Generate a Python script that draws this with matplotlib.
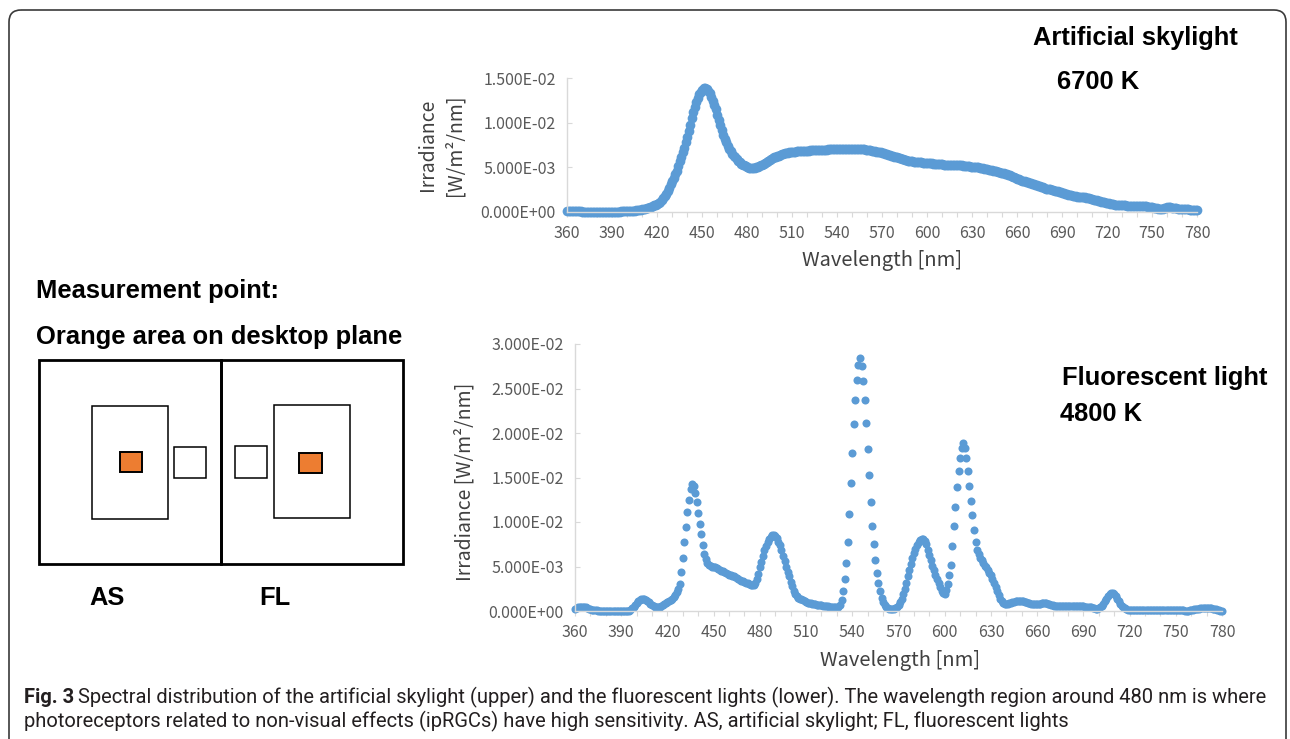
import matplotlib
matplotlib.use('Agg')
import matplotlib.pyplot as plt
import numpy as np
from matplotlib import font_manager
from matplotlib.patches import Rectangle, FancyBboxPatch
from matplotlib.ticker import FuncFormatter, MultipleLocator

plt.rcParams['font.family'] = ['Noto Sans CJK JP', 'DejaVu Sans']

W, H = 1290, 739

# wavelength grid, 1 nm steps
wavelength = np.arange(360, 781)

# artificial skylight 6700 K, irradiance in 1e-4 W/m2/nm (360..780 nm)
skylight = [
    1, 1, 1, 1, 1, 1, 1, 1, 1, 1,
    0, 0, 0, 0, 0, 0, 0, 0, 0, 0,
    0, 0, 0, 0, 0, 0, 0, 0, 0, 0,
    0, 0, 0, 0, 0, 0, 1, 1, 1, 1,
    1, 1, 1, 1, 1, 1, 2, 2, 2, 2,
    3, 3, 3, 4, 4, 5, 5, 6, 7, 8,
    9, 10, 11, 13, 15, 18, 20, 23, 27, 31,
    35, 38, 42, 46, 51, 57, 61, 67, 72, 78,
    84, 91, 98, 105, 112, 118, 123, 128, 132, 135,
    137, 139, 139, 138, 136, 133, 129, 125, 120, 115,
    109, 103, 97, 92, 86, 82, 78, 74, 71, 68,
    65, 63, 61, 59, 57, 56, 54, 53, 52, 51,
    50, 49, 49, 49, 49, 49, 50, 50, 51, 52,
    53, 54, 55, 56, 57, 58, 59, 60, 61, 62,
    63, 63, 64, 65, 65, 66, 66, 66, 67, 67,
    67, 67, 67, 68, 68, 68, 68, 68, 68, 68,
    68, 68, 69, 69, 69, 69, 69, 69, 69, 69,
    69, 69, 69, 69, 70, 70, 70, 70, 70, 70,
    70, 70, 70, 71, 71, 71, 71, 71, 71, 71,
    71, 71, 71, 71, 71, 70, 70, 70, 70, 69,
    69, 69, 69, 68, 68, 68, 67, 67, 67, 67,
    66, 66, 65, 65, 64, 64, 63, 63, 62, 62,
    61, 60, 60, 59, 59, 58, 58, 57, 57, 57,
    57, 56, 56, 56, 56, 56, 56, 55, 55, 55,
    55, 55, 55, 55, 54, 54, 54, 54, 54, 54,
    54, 53, 53, 53, 53, 53, 53, 53, 53, 52,
    52, 52, 52, 52, 51, 51, 51, 51, 51, 50,
    50, 50, 50, 50, 50, 49, 49, 49, 48, 48,
    48, 47, 47, 47, 46, 46, 46, 45, 45, 44,
    44, 43, 42, 42, 41, 41, 40, 39, 39, 38,
    37, 37, 36, 35, 35, 34, 33, 33, 32, 32,
    31, 31, 30, 30, 29, 29, 28, 28, 27, 26,
    26, 25, 25, 24, 24, 23, 23, 23, 22, 22,
    21, 21, 20, 20, 19, 19, 19, 18, 18, 18,
    17, 17, 17, 16, 16, 16, 15, 15, 15, 14,
    14, 13, 13, 13, 12, 12, 11, 11, 11, 10,
    10, 10, 9, 9, 9, 8, 8, 8, 8, 7,
    7, 7, 7, 6, 6, 6, 6, 6, 6, 6,
    6, 6, 6, 6, 6, 6, 6, 5, 5, 5,
    5, 4, 4, 4, 3, 3, 3, 3, 4, 4,
    5, 5, 5, 4, 4, 4, 4, 3, 3, 3,
    3, 3, 3, 3, 3, 2, 2, 2, 2, 2,
    2,
]

# fluorescent light 4800 K, irradiance in 1e-4 W/m2/nm (360..780 nm)
fluorescent = [
    2, 3, 4, 4, 5, 5, 4, 4, 3, 2,
    2, 1, 1, 1, 1, 0, 0, 0, 0, 0,
    0, 0, 0, 0, 0, 0, 0, 0, 0, 0,
    0, 0, 0, 0, 0, 0, 1, 3, 5, 7,
    9, 11, 12, 13, 13, 13, 12, 11, 10, 8,
    7, 6, 5, 5, 5, 5, 6, 7, 8, 9,
    10, 11, 12, 14, 16, 18, 21, 25, 30, 44,
    60, 78, 94, 111, 125, 137, 143, 140, 133, 122,
    110, 98, 86, 74, 64, 58, 54, 52, 51, 50,
    49, 49, 48, 47, 46, 45, 45, 44, 43, 42,
    41, 40, 39, 39, 38, 37, 36, 35, 34, 34,
    33, 32, 31, 30, 29, 29, 29, 32, 36, 42,
    49, 55, 62, 68, 73, 78, 81, 83, 85, 85,
    84, 82, 78, 74, 68, 62, 56, 50, 44, 39,
    33, 28, 23, 19, 17, 15, 14, 13, 12, 11,
    10, 9, 9, 9, 8, 8, 8, 7, 7, 7,
    7, 6, 6, 6, 6, 5, 5, 5, 5, 4,
    4, 5, 7, 12, 22, 36, 54, 77, 109, 144,
    178, 210, 237, 260, 276, 284, 275, 258, 237, 211,
    182, 153, 123, 96, 75, 57, 43, 31, 22, 15,
    10, 7, 5, 3, 2, 2, 2, 2, 3, 5,
    7, 10, 14, 19, 25, 32, 39, 46, 53, 59,
    65, 70, 74, 77, 80, 81, 81, 79, 75, 69,
    63, 57, 51, 46, 41, 36, 31, 27, 23, 20,
    19, 24, 30, 40, 52, 73, 95, 117, 139, 157,
    172, 183, 189, 183, 172, 157, 140, 124, 108, 91,
    78, 69, 64, 60, 57, 54, 51, 49, 46, 43,
    40, 36, 32, 27, 22, 18, 14, 11, 9, 8,
    8, 8, 9, 9, 10, 10, 11, 11, 11, 11,
    11, 11, 10, 10, 9, 9, 8, 8, 8, 8,
    8, 8, 8, 9, 9, 9, 9, 8, 8, 7,
    7, 6, 6, 6, 6, 6, 6, 6, 6, 6,
    6, 6, 6, 6, 6, 6, 6, 6, 6, 6,
    6, 5, 5, 5, 4, 4, 3, 3, 2, 2,
    3, 4, 6, 8, 11, 14, 17, 19, 20, 20,
    19, 17, 14, 11, 8, 6, 4, 3, 2, 1,
    1, 1, 1, 1, 1, 1, 1, 1, 1, 1,
    1, 1, 1, 1, 1, 1, 1, 1, 1, 1,
    1, 1, 1, 1, 1, 1, 1, 1, 1, 1,
    1, 1, 1, 1, 1, 1, 0, 0, 0, 1,
    1, 1, 2, 2, 2, 2, 3, 3, 3, 3,
    3, 3, 3, 3, 2, 2, 2, 1, 1, 0,
    0,
]

caption_1 = ("Spectral distribution of the artificial skylight (upper) and the fluorescent "
             "lights (lower). The wavelength region around 480 nm is where")
caption_2 = ("photoreceptors related to non-visual effects (ipRGCs) have high sensitivity. "
             "AS, artificial skylight; FL, fluorescent lights")

BLUE = '#5b9bd5'
ORANGE = '#ed7d31'


def has_font(name):
    try:
        font_manager.findfont(font_manager.FontProperties(family=name),
                              fallback_to_default=False)
        return True
    except Exception:
        return False


cap_font = 'Liberation Sans Narrow' if has_font('Liberation Sans Narrow') else 'Roboto'

fig = plt.figure(figsize=(W / 100, H / 100), dpi=100)

# background layer in pixel coordinates (diagram, titles, frame, caption)
bg = fig.add_axes([0, 0, 1, 1])
bg.set_xlim(0, W)
bg.set_ylim(H, 0)
bg.axis('off')

bg.add_patch(FancyBboxPatch((9, 10), 1277, 780, boxstyle='round,pad=0,rounding_size=12',
                            fc='none', ec='#3a3a3a', lw=1.2, clip_on=False))


def style_axes(ax, ymax, ystep):
    ax.set_xlim(360, 780)
    ax.set_ylim(0, ymax)
    ax.patch.set_visible(False)
    for s in ['top', 'right']:
        ax.spines[s].set_visible(False)
    for s in ['left', 'bottom']:
        ax.spines[s].set_color('#d9d9d9')
        ax.spines[s].set_linewidth(1.0)
    ax.xaxis.set_major_locator(MultipleLocator(30))
    ax.xaxis.set_minor_locator(MultipleLocator(10))
    ax.yaxis.set_major_locator(MultipleLocator(ystep))
    ax.yaxis.set_major_formatter(FuncFormatter(lambda v, p: f'{v:.3E}'))
    ax.tick_params(axis='x', which='both', direction='out', length=3.5, width=0.8,
                   color='#d9d9d9', labelsize=11.5, labelcolor='#595959', pad=6)
    ax.tick_params(axis='y', direction='in', length=3.5, width=0.8,
                   color='#d9d9d9', labelsize=11.5, labelcolor='#595959', pad=8)


# upper chart: artificial skylight
ax1 = fig.add_axes([567 / W, 1 - 211.7 / H, 630 / W, 133.4 / H])
style_axes(ax1, 0.015, 0.005)
ax1.plot(wavelength, np.array(skylight) * 1e-4, 'o', ms=7.0, mew=0, color=BLUE, clip_on=False)
ax1.set_xlabel('Wavelength [nm]', fontsize=14.5, color='#404040')
ax1.xaxis.set_label_coords(0.5, (211.7 - 250) / 133.4)
ax1.set_ylabel('Irradiance\n[W/m²/nm]', fontsize=14, color='#404040', linespacing=1.45)
ax1.yaxis.set_label_coords((466 - 567) / 630, 0.5)

# lower chart: fluorescent light
ax2 = fig.add_axes([575 / W, 1 - 611 / H, 647 / W, 267 / H])
style_axes(ax2, 0.03, 0.005)
ax2.plot(wavelength, np.array(fluorescent) * 1e-4, 'o', ms=5.8, mew=0, color=BLUE, clip_on=False)
ax2.set_xlabel('Wavelength [nm]', fontsize=14.5, color='#404040')
ax2.xaxis.set_label_coords((900 - 575) / 647, (611 - 650) / 267)
ax2.set_ylabel('Irradiance [W/m²/nm]', fontsize=14, color='#404040')
ax2.yaxis.set_label_coords((475 - 575) / 647, (611 - 482) / 267)

# titles
bold = dict(family='Liberation Sans', weight='bold', fontsize=18.4, color='black')
bg.text(1033, 45, 'Artificial skylight', va='baseline', **bold)
bg.text(1057, 89, '6700 K', va='baseline', **bold)
bg.text(1062, 385, 'Fluorescent light', va='baseline', **bold)
bg.text(1060, 421, '4800 K', va='baseline', **bold)
bg.text(36, 298, 'Measurement point:', va='baseline', **bold)
bg.text(36, 344, 'Orange area on desktop plane', va='baseline', **bold)
bg.text(89, 605, 'AS', va='baseline', **bold)
bg.text(259, 605, 'FL', va='baseline', **bold)

# schematic of the two rooms
bg.add_patch(Rectangle((38.5, 360), 182, 204, fc='none', ec='black', lw=2.0))
bg.add_patch(Rectangle((220.5, 359.5), 182, 204.5, fc='none', ec='black', lw=2.0))
bg.add_patch(Rectangle((92, 406), 76, 113, fc='none', ec='black', lw=1.1))
bg.add_patch(Rectangle((273.5, 405), 76, 113, fc='none', ec='black', lw=1.1))
bg.add_patch(Rectangle((174, 447), 32, 31, fc='none', ec='black', lw=1.1))
bg.add_patch(Rectangle((235, 446), 32, 31.5, fc='none', ec='black', lw=1.1))
bg.add_patch(Rectangle((120, 452), 22, 20, fc=ORANGE, ec='black', lw=1.4))
bg.add_patch(Rectangle((299, 453), 22.5, 20, fc=ORANGE, ec='black', lw=1.4))

# caption, sized to the width of the original line
renderer = fig.canvas.get_renderer()
t0 = bg.text(24, 703, 'Fig. 3', family=cap_font, weight='bold', fontsize=12,
             color='#231f20', va='baseline')
t1 = bg.text(0, 703, caption_1, family=cap_font, fontsize=12, color='#231f20', va='baseline')
w0 = t0.get_window_extent(renderer).width
w1 = t1.get_window_extent(renderer).width
scale = (1242 - 4) / (w0 + w1)
fs = 12 * scale
t0.set_fontsize(fs)
t1.set_fontsize(fs)
t1.set_x(24 + w0 * scale + 0.3 * fs)
bg.text(24, 727, caption_2, family=cap_font, fontsize=fs, color='#231f20', va='baseline')

fig.savefig('out.png', dpi=100)
